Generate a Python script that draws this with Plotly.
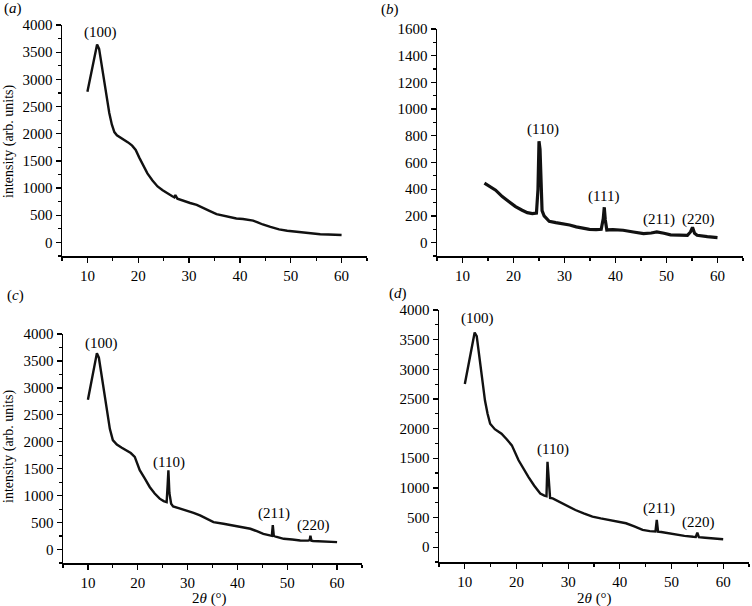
import plotly.graph_objects as go

# ---------------- data ----------------
# (a)
a_theta = [10, 10.5, 11, 11.5, 11.9, 12.3, 12.8, 13.3, 13.8, 14.3, 14.8, 15.3, 15.8, 16.5, 17.3,
           18, 18.8, 19.5, 20.2, 21, 21.8, 22.8, 23.8, 24.8, 25.7, 26.7, 27.1, 27.3, 27.7, 29,
           30.2, 31.5, 32.8, 34, 35.4, 36.7, 38, 39.3, 40.6, 41.6, 42.6, 43.5, 44.5, 46, 47.7,
           49.3, 50.9, 52.5, 54.2, 55.8, 57.4, 58.7, 60]
a_int = [2770, 2990, 3230, 3450, 3640, 3560, 3260, 2900, 2620, 2380, 2170, 2030, 1970, 1930, 1880,
         1840, 1780, 1700, 1560, 1420, 1270, 1140, 1030, 960, 900, 850, 830, 870, 805, 760,
         725, 690, 640, 580, 520, 490, 460, 440, 430, 415, 400, 370, 330, 285, 240,
         215, 200, 180, 160, 150, 145, 140, 135]

# (b)
b_theta = [14.3, 15.5, 16.5, 17.8, 19.1, 20.4, 21.7, 22.7, 23.7, 24.5, 24.8, 25.0, 25.2, 25.4, 25.6,
           26.0, 27, 28.3, 29.7, 31, 32.3, 33.6, 34.9, 36.2, 37.2, 37.6, 37.8, 38.0, 38.3, 39.5,
           41.5, 43.5, 45.5, 47, 48.1, 49.5, 50.8, 52.5, 54.1, 54.7, 55.1, 55.5, 56, 58, 60]
b_int = [445, 420, 393, 345, 305, 270, 243, 225, 218, 222, 400, 760, 700, 420, 240,
         200, 160, 150, 143, 132, 118, 108, 100, 98, 100, 180, 265, 170, 95, 98,
         93, 80, 68, 72, 80, 70, 58, 56, 55, 80, 115, 70, 55, 45, 38]

# (c)
c_theta = [10, 10.5, 11, 11.4, 11.8, 12.2, 12.7, 13.2, 13.8, 14.4, 15, 15.8, 16.8, 17.7, 18.6,
           19.4, 20.4, 21.4, 22.4, 23.4, 24.4, 25.2, 25.8, 26.0, 26.15, 26.35, 26.7, 27.1, 28.4,
           29.8, 31.2, 32.5, 33.8, 35.2, 37.2, 39.2, 40.9, 42.6, 43.9, 45.2, 46.5, 46.9, 47.1,
           47.3, 47.7, 49.3, 51, 52.6, 54.2, 54.5, 54.65, 54.85, 55.2, 56, 58, 60]
c_int = [2780, 3010, 3260, 3470, 3645, 3560, 3250, 2900, 2530, 2240, 2030, 1950, 1890, 1844, 1790,
         1720, 1472, 1320, 1161, 1040, 944, 900, 880, 1200, 1470, 1050, 850, 801, 765,
         727, 680, 633, 570, 509, 478, 447, 420, 385, 340, 292, 262, 255, 455,
         255, 240, 199, 185, 168, 165, 175, 255, 165, 158, 155, 145, 137]

# (d)
d_theta = [10, 10.5, 11, 11.5, 11.9, 12.3, 12.8, 13.3, 13.9, 14.4, 14.9, 15.8, 17.1, 18.1, 19.1,
           20.4, 21.3, 22.3, 23.4, 24.6, 25.4, 25.8, 26.0, 26.2, 26.5, 27, 28.8, 30.1, 31.4,
           33, 34.7, 36.3, 37.9, 39.5, 41.2, 42.8, 44.4, 45.8, 46.9, 47.15, 47.4, 48, 49.5,
           50.9, 52.5, 54.2, 54.7, 55.0, 55.3, 56.5, 58.3, 60]
d_int = [2752, 2990, 3230, 3450, 3620, 3560, 3240, 2880, 2472, 2250, 2081, 1990, 1913, 1820, 1717,
         1466, 1330, 1186, 1040, 906, 870, 860, 1440, 1100, 830, 822, 738, 685, 627,
         570, 515, 485, 459, 432, 403, 350, 291, 270, 265, 459, 262, 255, 230,
         207, 190, 175, 172, 246, 168, 160, 148, 134]

# peak labels: (panel, label, 2theta, intensity)
peak_labels = [
    ("a", "(100)", 12.5, 3870),
    ("b", "(110)", 25.8, 845),
    ("b", "(111)", 37.7, 342),
    ("b", "(211)", 48.5, 170),
    ("b", "(220)", 56.2, 170),
    ("c", "(100)", 12.8, 3833),
    ("c", "(110)", 26.3, 1624),
    ("c", "(211)", 47.3, 678),
    ("c", "(220)", 55.2, 437),
    ("d", "(100)", 12.5, 3865),
    ("d", "(110)", 27.1, 1639),
    ("d", "(211)", 47.6, 644),
    ("d", "(220)", 55.3, 408),
]

x_range = [5, 65]
x_ticks = [10, 20, 30, 40, 50, 60]
y_ranges = {"a": [-250, 4000], "b": [-100, 1600], "c": [-250, 4000], "d": [-250, 4000]}
y_dtick = {"a": 500, "b": 200, "c": 500, "d": 500}
y_minor = {"a": 250, "b": 100, "c": 250, "d": 250}
y_title = "intensity (arb. units)"
x_title = "2<i>θ</i> (°)"

# ---------------- figure ----------------
W, H = 752, 606
SERIF = "Liberation Serif, Times New Roman, serif"

# plot areas in pixels (left, right, top, bottom)
boxes = {
    "a": (62, 367, 25, 256),
    "b": (437, 743, 29, 256),
    "c": (63, 362, 334, 563),
    "d": (439, 749, 310, 562),
}
axis_ids = {"a": "", "b": "2", "c": "3", "d": "4"}
series = {"a": (a_theta, a_int), "b": (b_theta, b_int), "c": (c_theta, c_int), "d": (d_theta, d_int)}

fig = go.Figure()
layout = dict(
    width=W, height=H, margin=dict(l=0, r=0, t=0, b=0),
    template="none", showlegend=False,
    paper_bgcolor="white", plot_bgcolor="white",
    font=dict(family=SERIF, size=15, color="black"),
)

for key, (l, r, t, b) in boxes.items():
    aid = axis_ids[key]
    xs, ys = series[key]
    fig.add_trace(go.Scatter(
        x=xs, y=ys, mode="lines",
        line=dict(color="#111111", width=3.2 if key == "b" else 2.4),
        xaxis="x" + aid, yaxis="y" + aid, hoverinfo="skip",
    ))
    layout["xaxis" + aid] = dict(
        domain=[l / W, r / W], range=x_range, anchor="y" + aid,
        tickmode="array", tickvals=x_ticks,
        ticks="outside", ticklen=5, tickwidth=1.3, tickcolor="black",
        showline=True, linecolor="black", linewidth=1.5,
        showgrid=False, zeroline=False, automargin=False,
        tickfont=dict(family=SERIF, size=15),
        minor=dict(dtick=5, tick0=0, ticks="outside", ticklen=3, tickwidth=1.2, tickcolor="black", showgrid=False),
    )
    layout["yaxis" + aid] = dict(
        domain=[1 - b / H, 1 - t / H], range=y_ranges[key], anchor="x" + aid,
        dtick=y_dtick[key], tick0=0,
        ticks="outside", ticklen=5, tickwidth=1.3, tickcolor="black",
        showline=True, linecolor="black", linewidth=1.5,
        showgrid=False, zeroline=False, automargin=False,
        tickfont=dict(family=SERIF, size=15),
        minor=dict(dtick=y_minor[key], tick0=0, ticks="outside", ticklen=3, tickwidth=1.2, tickcolor="black", showgrid=False),
    )

annotations = []
# panel letters
for key, (px, py) in {"a": (2, 8), "b": (379, 10), "c": (5, 295), "d": (387, 293)}.items():
    annotations.append(dict(text="(<i>%s</i>)" % key, x=px / W, y=1 - py / H, xref="paper", yref="paper",
                            xanchor="left", yanchor="middle", showarrow=False,
                            font=dict(family=SERIF, size=15)))
# y titles
for key, cy in {"a": 142, "c": 447}.items():
    annotations.append(dict(text=y_title, x=9 / W, y=1 - cy / H, xref="paper", yref="paper",
                            textangle=-90, xanchor="center", yanchor="middle", showarrow=False,
                            font=dict(family=SERIF, size=14)))
# x titles
for key, cx in {"c": 210, "d": 594}.items():
    annotations.append(dict(text=x_title, x=cx / W, y=1 - 598 / H, xref="paper", yref="paper",
                            xanchor="center", yanchor="middle", showarrow=False,
                            font=dict(family=SERIF, size=15)))
# peak labels
for key, lab, xv, yv in peak_labels:
    aid = axis_ids[key]
    annotations.append(dict(text=lab, x=xv, y=yv, xref="x" + aid, yref="y" + aid,
                            xanchor="center", yanchor="middle", showarrow=False,
                            font=dict(family=SERIF, size=15)))

layout["annotations"] = annotations
fig.update_layout(**layout)
fig.write_html(
    "out.html",
    config={"displayModeBar": False, "staticPlot": True},
    post_script="document.body.style.margin='0px';document.body.style.padding='0px';"
                "document.documentElement.style.overflow='hidden';",
)
